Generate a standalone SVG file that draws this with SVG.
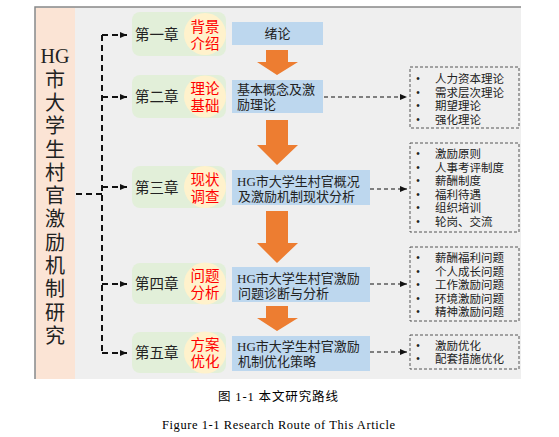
<svg xmlns="http://www.w3.org/2000/svg" width="559" height="437" viewBox="0 0 559 437">
<style>
text{font-family:"Liberation Serif","Noto Sans CJK SC",serif;dominant-baseline:central;fill:#222}
.side{font-size:20px;text-anchor:middle}
.ch{font-size:14.5px}
.red{font-size:14.5px;fill:#ff0000;text-anchor:middle}
.blue{font-size:13px}
.li{font-size:11.5px}
.green{fill:#e2efd9}
.circ{fill:#fff2cc}
.bluebox{fill:#bdd7ee}
.orange{fill:#ed7d31}
.trunk{fill:none;stroke:#111;stroke-width:2;stroke-dasharray:6 4}
.dash{fill:none;stroke:#111;stroke-width:1.2;stroke-dasharray:4 3}
.listbox{fill:none;stroke:#555;stroke-width:1;stroke-dasharray:3 2}
.cap{font-size:12.5px;fill:#000}
</style>
<defs>
<marker id="ah" markerWidth="8" markerHeight="8" refX="7" refY="4" orient="auto" markerUnits="userSpaceOnUse">
<path d="M0,1 L7,4 L0,7 Z" fill="#111"/>
</marker>
</defs>
<rect width="559" height="437" fill="#ffffff"/>
<g id="frame">
<rect x="35" y="7" width="486" height="372" fill="#efefef"/>
<rect x="36" y="8" width="39" height="371" fill="#fbe4d5"/>
<path d="M35,379 L35,7 L521,7" fill="none" stroke="#888" stroke-width="1.5"/>
</g>
<g id="title">
<text class="side" x="55" y="56">HG</text>
<text class="side" x="55" y="80">市</text>
<text class="side" x="55" y="103">大</text>
<text class="side" x="55" y="126">学</text>
<text class="side" x="55" y="150">生</text>
<text class="side" x="55" y="173">村</text>
<text class="side" x="55" y="196">官</text>
<text class="side" x="55" y="219">激</text>
<text class="side" x="55" y="243">励</text>
<text class="side" x="55" y="266">机</text>
<text class="side" x="55" y="289">制</text>
<text class="side" x="55" y="313">研</text>
<text class="side" x="55" y="336">究</text>
</g>
<g id="connectors">
<path class="trunk" d="M76,194 L102,194"/>
<path class="trunk" d="M102,35 L102,353"/>
<path class="trunk" d="M102,35 L127,35" marker-end="url(#ah)"/>
<path class="trunk" d="M102,97 L127,97" marker-end="url(#ah)"/>
<path class="trunk" d="M102,187 L127,187" marker-end="url(#ah)"/>
<path class="trunk" d="M102,284 L127,284" marker-end="url(#ah)"/>
<path class="trunk" d="M102,353 L127,353" marker-end="url(#ah)"/>
<path class="dash" d="M324,97 L407,97" marker-end="url(#ah)"/>
<path class="dash" d="M370,189 L407,189" marker-end="url(#ah)"/>
<path class="dash" d="M370,284 L407,284" marker-end="url(#ah)"/>
<path class="dash" d="M370,352 L407,352" marker-end="url(#ah)"/>
<polygon class="orange" points="266,50 288,50 288,62 298,62 277,75 257,62 266,62"/>
<polygon class="orange" points="266,120 288,120 288,145 298,145 277,165 257,145 266,145"/>
<polygon class="orange" points="266,211 288,211 288,243 298,243 277,263 257,243 266,243"/>
<polygon class="orange" points="266,306 288,306 288,318 298,318 277,331 257,318 266,318"/>
</g>
<g id="ch1">
<rect class="green" x="132" y="12" width="94" height="44" rx="8"/>
<text class="ch" x="135" y="35">第一章</text>
<circle class="circ" cx="205" cy="34" r="21"/>
<text class="red" x="205" y="27">背景</text>
<text class="red" x="205" y="44">介绍</text>
<rect class="bluebox" x="232" y="22" width="91" height="23"/>
<text class="blue" x="277.5" y="33.5" text-anchor="middle">绪论</text>
</g>
<g id="ch2">
<rect class="green" x="132" y="75" width="94" height="43" rx="8"/>
<text class="ch" x="135" y="97">第二章</text>
<circle class="circ" cx="205" cy="96.5" r="21"/>
<text class="red" x="205" y="89">理论</text>
<text class="red" x="205" y="106">基础</text>
<rect class="bluebox" x="232" y="80" width="91" height="33"/>
<text class="blue" x="237" y="89.5">基本概念及激</text>
<text class="blue" x="237" y="104.5">励理论</text>
</g>
<g id="ch3">
<rect class="green" x="132" y="166" width="94" height="42" rx="8"/>
<text class="ch" x="135" y="188">第三章</text>
<circle class="circ" cx="205" cy="187" r="21"/>
<text class="red" x="205" y="179.5">现状</text>
<text class="red" x="205" y="196.5">调查</text>
<rect class="bluebox" x="232" y="170" width="138" height="35"/>
<text class="blue" x="237" y="181">HG市大学生村官概况</text>
<text class="blue" x="238" y="196.5">及激励机制现状分析</text>
</g>
<g id="ch4">
<rect class="green" x="132" y="263" width="94" height="41" rx="8"/>
<text class="ch" x="135" y="284">第四章</text>
<circle class="circ" cx="205" cy="283.5" r="21"/>
<text class="red" x="205" y="276">问题</text>
<text class="red" x="205" y="293">分析</text>
<rect class="bluebox" x="232" y="267" width="138" height="35"/>
<text class="blue" x="237" y="278">HG市大学生村官激励</text>
<text class="blue" x="238" y="293.5">问题诊断与分析</text>
</g>
<g id="ch5">
<rect class="green" x="132" y="332" width="94" height="41" rx="8"/>
<text class="ch" x="135" y="353">第五章</text>
<circle class="circ" cx="205" cy="352.5" r="21"/>
<text class="red" x="205" y="345">方案</text>
<text class="red" x="205" y="362">优化</text>
<rect class="bluebox" x="232" y="336" width="138" height="35"/>
<text class="blue" x="237" y="346">HG市大学生村官激励</text>
<text class="blue" x="238" y="361.5">机制优化策略</text>
</g>
<g id="list2">
<rect class="listbox" x="410" y="67" width="109" height="61"/>
<text class="li" x="416" y="79">•</text><text class="li" x="435" y="79">人力资本理论</text>
<text class="li" x="416" y="92.5">•</text><text class="li" x="435" y="92.5">需求层次理论</text>
<text class="li" x="416" y="106">•</text><text class="li" x="435" y="106">期望理论</text>
<text class="li" x="416" y="119.5">•</text><text class="li" x="435" y="119.5">强化理论</text>
</g>
<g id="list3">
<rect class="listbox" x="410" y="143" width="109" height="89"/>
<text class="li" x="416" y="154">•</text><text class="li" x="435" y="154">激励原则</text>
<text class="li" x="416" y="167.5">•</text><text class="li" x="435" y="167.5">人事考评制度</text>
<text class="li" x="416" y="181">•</text><text class="li" x="435" y="181">薪酬制度</text>
<text class="li" x="416" y="194.5">•</text><text class="li" x="435" y="194.5">福利待遇</text>
<text class="li" x="416" y="208">•</text><text class="li" x="435" y="208">组织培训</text>
<text class="li" x="416" y="221.5">•</text><text class="li" x="435" y="221.5">轮岗、交流</text>
</g>
<g id="list4">
<rect class="listbox" x="410" y="247" width="109" height="74"/>
<text class="li" x="416" y="258">•</text><text class="li" x="435" y="258">薪酬福利问题</text>
<text class="li" x="416" y="271.5">•</text><text class="li" x="435" y="271.5">个人成长问题</text>
<text class="li" x="416" y="285">•</text><text class="li" x="435" y="285">工作激励问题</text>
<text class="li" x="416" y="298.5">•</text><text class="li" x="435" y="298.5">环境激励问题</text>
<text class="li" x="416" y="312">•</text><text class="li" x="435" y="312">精神激励问题</text>
</g>
<g id="list5">
<rect class="listbox" x="410" y="335" width="109" height="34"/>
<text class="li" x="416" y="346">•</text><text class="li" x="435" y="346">激励优化</text>
<text class="li" x="416" y="359">•</text><text class="li" x="435" y="359">配套措施优化</text>
</g>
<g id="caption">
<text class="cap" x="218" y="397" textLength="120" lengthAdjust="spacing">图 1-1 本文研究路线</text>
<text class="cap" x="162" y="425" font-size="13" textLength="233" lengthAdjust="spacing">Figure 1-1 Research Route of This Article</text>
</g>
</svg>
